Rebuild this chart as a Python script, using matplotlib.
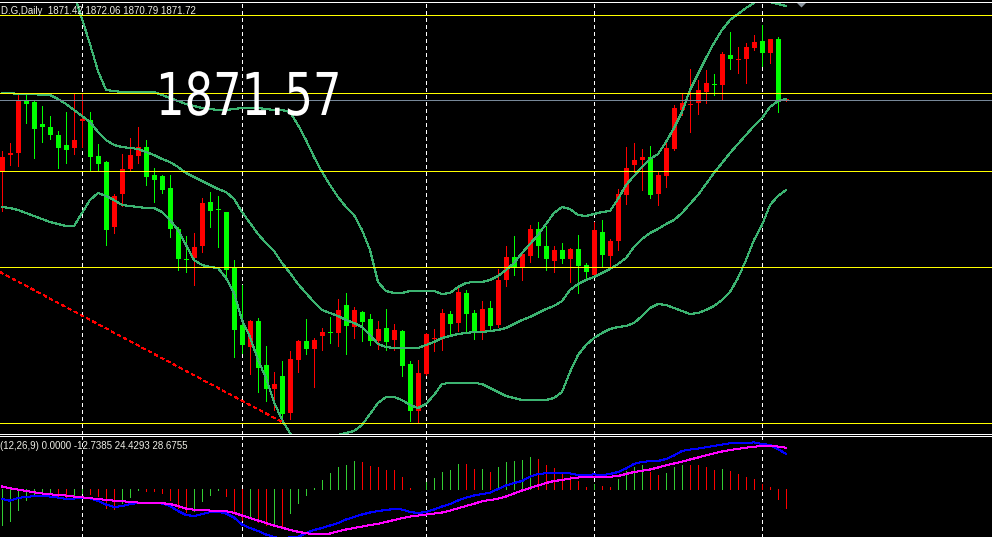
import matplotlib
matplotlib.use("Agg")
import matplotlib.pyplot as plt
from matplotlib.patches import Rectangle, Polygon
from matplotlib.patheffects import AbstractPathEffect
from matplotlib.transforms import Affine2D
import numpy as np

plt.rcParams['lines.scale_dashes'] = False

# ---------------- data (daily bars, price units) ----------------
opens = [1829.0, 1838.6, 1839.8, 1871.6, 1870.4, 1857.2, 1855.4, 1850.6, 1844.6, 1842.8,
         1859.0, 1859.6, 1838.0, 1834.4, 1795.4, 1815.2, 1830.2, 1838.0, 1843.4, 1826.6,
         1826.0, 1818.8, 1794.2, 1776.2, 1776.8, 1784.0, 1810.4, 1806.2, 1804.4, 1771.4,
         1736.6, 1723.4, 1739.0, 1712.6, 1698.2, 1706.0, 1683.8, 1715.6, 1727.0, 1722.2,
         1730.0, 1732.4, 1731.8, 1748.6, 1735.4, 1744.4, 1740.2, 1727.0, 1734.8, 1727.6,
         1733.0, 1713.2, 1685.0, 1707.2, 1728.2, 1728.2, 1743.2, 1737.8, 1755.8, 1743.8,
         1733.0, 1746.8, 1736.6, 1763.6, 1777.4, 1771.4, 1778.0, 1794.2, 1784.0, 1775.0,
         1781.6, 1776.2, 1782.2, 1772.6, 1766.6, 1792.4, 1778.0, 1787.0, 1814.6, 1832.6,
         1835.6, 1837.4, 1815.2, 1826.0, 1842.2, 1865.6, 1868.9, 1869.8, 1876.4, 1881.2,
         1880.6, 1898.6, 1895.6, 1896.2, 1902.8, 1907.0, 1899.8, 1908.2, 1871.42]
highs = [1841.0, 1845.8, 1875.8, 1875.2, 1871.0, 1868.0, 1862.0, 1853.0, 1864.4, 1875.8,
         1875.8, 1864.4, 1845.2, 1835.0, 1815.2, 1839.2, 1848.8, 1855.4, 1847.6, 1830.8,
         1826.6, 1826.6, 1795.4, 1790.0, 1791.8, 1812.8, 1816.4, 1814.0, 1804.4, 1775.6,
         1760.6, 1739.6, 1740.8, 1724.0, 1708.4, 1715.0, 1721.0, 1727.6, 1740.2, 1728.8,
         1734.8, 1741.4, 1752.2, 1755.8, 1747.4, 1745.0, 1743.2, 1739.0, 1746.2, 1737.2,
         1733.6, 1715.0, 1715.6, 1731.8, 1734.2, 1746.2, 1745.0, 1759.4, 1757.6, 1745.6,
         1751.0, 1751.0, 1770.2, 1784.0, 1790.0, 1781.0, 1796.6, 1798.4, 1796.0, 1784.0,
         1785.8, 1782.8, 1790.6, 1773.8, 1798.4, 1799.6, 1788.2, 1818.2, 1843.4, 1845.8,
         1842.2, 1844.0, 1828.4, 1846.4, 1868.6, 1875.2, 1890.2, 1883.6, 1889.6, 1887.2,
         1900.4, 1912.4, 1903.4, 1905.8, 1910.6, 1916.6, 1908.2, 1909.4, 1872.06]
lows = [1805.0, 1832.6, 1832.0, 1857.8, 1836.8, 1846.4, 1848.2, 1830.8, 1833.8, 1839.2,
        1843.4, 1829.0, 1829.0, 1784.6, 1791.8, 1808.0, 1829.0, 1833.8, 1820.6, 1810.4,
        1815.8, 1789.4, 1769.6, 1768.4, 1760.6, 1780.4, 1795.4, 1783.4, 1765.4, 1717.4,
        1719.8, 1707.2, 1696.4, 1691.0, 1685.6, 1677.8, 1680.2, 1708.4, 1719.2, 1699.4,
        1721.6, 1725.8, 1724.0, 1719.2, 1728.8, 1727.0, 1724.6, 1722.2, 1721.6, 1721.6,
        1706.0, 1679.0, 1677.8, 1706.6, 1721.0, 1721.6, 1730.6, 1733.0, 1731.8, 1728.2,
        1728.2, 1733.0, 1735.4, 1760.0, 1766.6, 1763.6, 1774.4, 1777.4, 1769.6, 1768.4,
        1773.8, 1762.4, 1755.8, 1764.2, 1766.0, 1771.4, 1770.2, 1781.6, 1809.2, 1828.4,
        1817.6, 1812.8, 1808.6, 1819.4, 1841.6, 1862.6, 1852.4, 1863.2, 1869.8, 1874.6,
        1872.2, 1890.2, 1887.8, 1881.8, 1901.6, 1892.0, 1893.8, 1864.4, 1870.79]
closes = [1837.4, 1839.8, 1871.6, 1869.2, 1854.2, 1855.4, 1850.6, 1842.8, 1841.6, 1847.6,
          1860.2, 1837.4, 1833.2, 1793.6, 1814.0, 1830.2, 1838.6, 1843.4, 1825.4, 1823.6,
          1817.6, 1794.2, 1776.2, 1775.6, 1783.4, 1809.8, 1805.0, 1805.6, 1769.6, 1733.6,
          1724.6, 1739.0, 1710.8, 1698.2, 1701.2, 1683.2, 1716.2, 1727.0, 1722.2, 1727.6,
          1732.4, 1731.8, 1745.6, 1736.0, 1745.6, 1738.4, 1727.0, 1734.2, 1726.4, 1733.6,
          1712.0, 1685.0, 1707.8, 1731.2, 1728.8, 1743.8, 1737.2, 1756.4, 1743.2, 1733.0,
          1746.2, 1736.0, 1763.6, 1777.4, 1771.4, 1779.2, 1794.2, 1784.0, 1776.2, 1781.6,
          1776.2, 1782.2, 1772.0, 1768.4, 1793.6, 1778.6, 1787.0, 1815.2, 1830.8, 1835.6,
          1837.4, 1814.6, 1826.6, 1842.8, 1866.8, 1869.8, 1869.5, 1877.6, 1881.8, 1880.6,
          1899.2, 1896.2, 1896.2, 1903.4, 1906.4, 1899.8, 1908.2, 1870.4, 1871.72]

bb_upper = [1944.2, 1944.8, 1944.8, 1946.6, 1948.4, 1949.0, 1950.8, 1947.2, 1942.4, 1935.2,
            1920.2, 1905.2, 1889.0, 1877.6, 1877.0, 1876.4, 1876.4, 1876.4, 1876.4, 1876.4,
            1874.6, 1872.8, 1871.0, 1869.2, 1868.0, 1866.8, 1866.2, 1865.6, 1865.6, 1866.2,
            1866.8, 1866.8, 1866.8, 1866.2, 1865.6, 1865.6, 1864.4, 1856.6, 1847.6, 1837.4,
            1828.4, 1820.6, 1813.4, 1807.4, 1802.6, 1793.6, 1781.6, 1762.4, 1757.0, 1755.8,
            1755.8, 1757.0, 1757.0, 1757.0, 1757.0, 1755.2, 1755.8, 1759.4, 1761.8, 1762.4,
            1762.4, 1763.6, 1766.0, 1769.6, 1773.8, 1779.8, 1785.2, 1790.6, 1797.2, 1803.8,
            1807.4, 1806.2, 1802.6, 1802.0, 1803.2, 1804.4, 1805.0, 1812.2, 1820.6, 1826.0,
            1831.4, 1836.2, 1839.2, 1846.4, 1854.8, 1864.4, 1877.6, 1887.2, 1896.8, 1905.8,
            1913.6, 1919.6, 1923.2, 1926.8, 1929.8, 1933.4, 1930.4, 1929.2, 1928.0]
bb_mid = [1875.8, 1875.8, 1875.2, 1875.2, 1875.2, 1874.6, 1874.6, 1872.2, 1869.2, 1865.6,
          1862.0, 1858.4, 1852.4, 1847.6, 1844.6, 1843.4, 1842.8, 1842.2, 1840.4, 1838.6,
          1836.2, 1834.4, 1831.4, 1827.8, 1825.4, 1823.0, 1820.6, 1818.2, 1816.4, 1812.2,
          1804.4, 1797.8, 1791.2, 1785.8, 1781.0, 1773.8, 1767.8, 1761.2, 1755.8, 1750.4,
          1745.6, 1743.8, 1742.0, 1739.6, 1737.8, 1735.4, 1730.6, 1725.2, 1723.4, 1722.8,
          1722.8, 1722.8, 1722.8, 1724.6, 1726.4, 1728.8, 1730.0, 1731.2, 1731.8, 1732.4,
          1732.4, 1733.0, 1733.6, 1734.8, 1737.2, 1739.6, 1741.4, 1743.8, 1746.2, 1748.0,
          1751.0, 1757.6, 1761.2, 1763.6, 1765.4, 1767.8, 1770.2, 1773.2, 1776.8, 1783.4,
          1788.2, 1791.8, 1794.2, 1797.2, 1799.6, 1803.8, 1809.2, 1814.6, 1821.2, 1827.8,
          1833.8, 1839.8, 1845.2, 1850.6, 1856.0, 1860.8, 1867.4, 1871.0, 1872.2]
bb_lower = [1807.4, 1806.8, 1805.6, 1803.8, 1802.0, 1800.2, 1798.4, 1797.2, 1796.0, 1796.0,
            1803.8, 1811.6, 1815.8, 1814.0, 1811.6, 1808.6, 1808.0, 1807.4, 1806.8, 1806.8,
            1804.4, 1799.6, 1793.6, 1784.6, 1775.6, 1772.6, 1771.4, 1770.8, 1764.8, 1755.8,
            1739.6, 1729.4, 1715.6, 1704.8, 1690.4, 1679.6, 1671.8, 1665.8, 1664.0, 1663.4,
            1662.8, 1667.0, 1670.6, 1671.8, 1673.0, 1676.6, 1683.2, 1689.8, 1693.4, 1693.4,
            1691.6, 1688.6, 1686.8, 1689.2, 1694.6, 1701.2, 1701.8, 1701.8, 1701.8, 1701.8,
            1701.2, 1698.8, 1696.4, 1694.0, 1692.8, 1691.6, 1691.6, 1691.6, 1691.6, 1692.8,
            1696.4, 1708.4, 1718.6, 1724.6, 1728.8, 1731.8, 1734.2, 1735.4, 1736.0, 1737.8,
            1742.0, 1746.8, 1749.2, 1748.6, 1746.8, 1745.0, 1743.2, 1743.8, 1745.6, 1748.0,
            1751.6, 1756.4, 1764.8, 1775.6, 1787.6, 1796.6, 1808.6, 1814.0, 1817.6]

macd_hist = [-24.6, -21.6, -14.3, -7.4, -3.9, -3.9, -3.2, -6.2, -6.7, -4.4,
             -2.5, -3.2, -4.6, -12.7, -13.6, -9.2, -5.5, -0.5, -1.2, -1.2,
             -2.8, -7.4, -12.7, -15.4, -15.0, -8.1, -3.9, -0.5, -4.4, -16.6,
             -21.5, -19.6, -22.3, -24.6, -25.3, -25.8, -16.6, -9.2, -3.9, 1.2,
             6.4, 11.0, 15.6, 16.8, 19.6, 18.9, 16.1, 15.2, 13.3, 13.3,
             8.5, 0.9, 0.5, 5.3, 7.6, 12.0, 13.3, 17.5, 17.5, 14.0,
             14.0, 12.0, 15.4, 18.9, 19.6, 20.2, 22.3, 20.9, 16.8, 14.7,
             10.6, 9.2, 5.8, 1.6, 3.7, 2.3, 1.6, 7.1, 12.7, 15.4,
             16.8, 12.0, 9.9, 11.3, 15.4, 16.8, 16.8, 16.8, 15.4, 13.3,
             14.0, 12.7, 10.6, 8.5, 7.1, 3.7, 1.6, -6.7, -12.7385]
hist_dir = ("GGGGGGGRRG" "GRRRRGGGRR" "RRRRGGGGRR" "RGRRGRGGGG" "GGGGGRRRRR"
            "RRRGGGGGRR" "GRGGGGGRRR" "RRRRGRRGGG" "GRRGGGRRRR" "GRRRRRRRR")
macd_main = [-6.69, -7.87, -6.00, -5.11, -4.83, -4.62, -4.97, -5.66, -6.69, -6.35,
             -6.21, -6.21, -8.07, -10.49, -12.21, -11.66, -10.14, -9.45, -9.25, -9.25,
             -9.80, -11.52, -14.97, -17.73, -18.42, -17.18, -15.66, -15.32, -16.70, -19.46,
             -24.29, -26.70, -28.77, -31.19, -32.91, -33.95, -33.60, -32.91, -30.15, -28.08,
             -26.70, -24.98, -23.25, -20.84, -19.11, -17.39, -16.01, -14.97, -14.28, -13.59,
             -13.94, -15.66, -16.35, -15.66, -13.94, -11.87, -10.14, -7.73, -5.80, -4.28,
             -3.24, -2.35, 0.21, 2.62, 4.35, 5.73, 8.69, 10.56, 11.04, 11.04,
             11.04, 11.04, 9.87, 9.52, 10.35, 9.73, 10.56, 11.94, 14.35, 17.46,
             19.04, 19.32, 19.53, 20.91, 23.32, 26.43, 27.46, 28.15, 29.05, 29.88,
             30.91, 31.74, 31.74, 31.74, 32.43, 31.26, 30.57, 27.81, 24.4293]
macd_signal = [1.93, 0.69, -0.14, -1.17, -2.07, -2.83, -3.45, -3.93, -4.28, -4.97,
               -5.52, -6.14, -6.69, -7.25, -7.80, -8.21, -8.63, -9.11, -9.32, -9.45,
               -9.59, -10.14, -11.52, -13.25, -14.15, -14.42, -14.63, -14.84, -15.11, -16.22,
               -18.08, -19.80, -21.53, -23.25, -24.98, -26.43, -28.08, -29.26, -30.36, -30.84,
               -30.84, -30.50, -28.98, -27.74, -26.70, -25.74, -24.63, -23.81, -22.56, -21.18,
               -19.94, -18.84, -18.08, -17.39, -16.70, -16.01, -14.70, -13.11, -11.52, -10.01,
               -8.21, -7.38, -6.49, -4.97, -2.90, -0.83, 0.90, 2.62, 4.35, 5.73,
               6.42, 7.38, 8.14, 8.56, 8.69, 8.69, 8.69, 9.18, 10.56, 11.94,
               12.83, 13.66, 15.04, 16.56, 17.80, 19.04, 20.56, 21.94, 23.46, 24.84,
               26.08, 27.12, 27.95, 28.70, 29.33, 29.88, 29.88, 29.53, 28.6755]

month_start_bars = [10, 30, 53, 74, 95]
level_prices = [1922.6, 1875.8, 1829.0, 1771.4, 1677.8]
bid_price = 1871.57
trend_bars = [-0.25, 35.0]
trend_prices = [1768.4, 1678.4]
header_text = "D.G,Daily  1871.42 1872.06 1870.79 1871.72"
macd_text = "(12,26,9) 0.0000 -12.7385 24.4293 28.6755"
big_label = "1871.57"

# ---------------- layout ----------------
W, H, DPI = 992, 537, 100
MAIN_TOP, MAIN_BOT, MACD_TOP = 2, 434, 436
BAR_PX = 8.0
fig = plt.figure(figsize=(W / DPI, H / DPI), dpi=DPI, facecolor='black')
ax = fig.add_axes([0, 1 - MAIN_BOT / H, 1, (MAIN_BOT - MAIN_TOP) / H])
axm = fig.add_axes([0, 0, 1, 1 - MACD_TOP / H])

PX = 0.72  # one pixel in points
for a in (ax, axm):
    a.set_facecolor('black')
    a.set_xticks([])
    a.set_yticks([])
    for s in a.spines.values():
        s.set_visible(False)
    a.set_xlim(-0.25, -0.25 + W / BAR_PX)
ax.spines['top'].set_visible(True)
ax.spines['bottom'].set_visible(True)
axm.spines['top'].set_visible(True)
for sp in (ax.spines['top'], ax.spines['bottom'], axm.spines['top']):
    sp.set_color('white')
    sp.set_linewidth(PX)
    sp.set_zorder(10)

ax.set_ylim(1671.2, 1930.4)
axm.set_ylim(-32.91, 36.78)

n = len(opens)
xs = np.arange(n)

# grid (month separators)
for b in month_start_bars:
    for a in (ax, axm):
        a.axvline(b, color='white', lw=PX, ls=(0, (2.16, 2.16)), zorder=1,
                  antialiased=False)

# candles
for i in range(n):
    o, h, l, c = opens[i], highs[i], lows[i], closes[i]
    col = '#FF0000' if c > o else '#00FF00'
    ax.vlines(i, l, h, color=col, lw=PX, antialiased=False, zorder=3)
    ax.add_patch(Rectangle((i - 0.3125, min(o, c)), 0.625, max(abs(c - o), 0.6),
                           facecolor=col, edgecolor='none', antialiased=False, zorder=3))

# bollinger bands
for band in (bb_upper, bb_mid, bb_lower):
    ax.plot(xs, band, color='#3CB371', lw=PX, antialiased=False, zorder=4)

# horizontal levels
for lv in level_prices:
    ax.axhline(lv, color='#FFFF00', lw=PX, zorder=5, antialiased=False)
ax.axhline(bid_price, color='#778899', lw=PX, zorder=5, antialiased=False)

# trend line
ax.plot(trend_bars, trend_prices, color='#FF0000', lw=PX, ls=(0, (2.16, 2.16)),
        zorder=4, antialiased=False)

# MACD panel
hcols = ['#32CD32' if d == 'G' else '#FF0000' for d in hist_dir]
axm.vlines(xs, 0, macd_hist, colors=hcols, lw=PX, antialiased=False, zorder=3)
axm.plot(xs, macd_main, color='#0000FF', lw=PX, antialiased=False, zorder=4)
axm.plot(xs, macd_signal, color='#FF00FF', lw=PX, antialiased=False, zorder=4)


# horizontally condensed rendering of the large price label
class HSqueeze(AbstractPathEffect):
    def __init__(self, sx, x0):
        super().__init__()
        self.sx = sx
        self.x0 = x0

    def draw_path(self, renderer, gc, tpath, affine, rgbFace=None):
        t = affine + Affine2D().translate(-self.x0, 0).scale(self.sx, 1).translate(self.x0, 0)
        renderer.draw_path(gc, tpath, t, rgbFace)


# texts
fig.text(1 / W, 1 - 14 / H, header_text, color='#EEEEE6', fontsize=7,
         family=['Liberation Sans', 'DejaVu Sans'], va='baseline', ha='left', zorder=20)
fig.text(0 / W, 1 - 449 / H, macd_text, color='#EEEEE6', fontsize=7,
         family=['Liberation Sans', 'DejaVu Sans'], va='baseline', ha='left', zorder=20)
fig.text(156 / W, 1 - 115 / H, big_label, color='white', fontsize=42.5,
         family=['DejaVu Sans'], va='baseline', ha='left', zorder=20,
         path_effects=[HSqueeze(0.76, 156)])

# chart shift marker
tri = Polygon([[797 / W, 1 - 3 / H], [806 / W, 1 - 3 / H], [801.5 / W, 1 - 7.5 / H]],
              closed=True, transform=fig.transFigure, facecolor='#8C96A0',
              edgecolor='none', zorder=20)
fig.patches.append(tri)

fig.savefig('out.png', dpi=DPI, facecolor='black')
